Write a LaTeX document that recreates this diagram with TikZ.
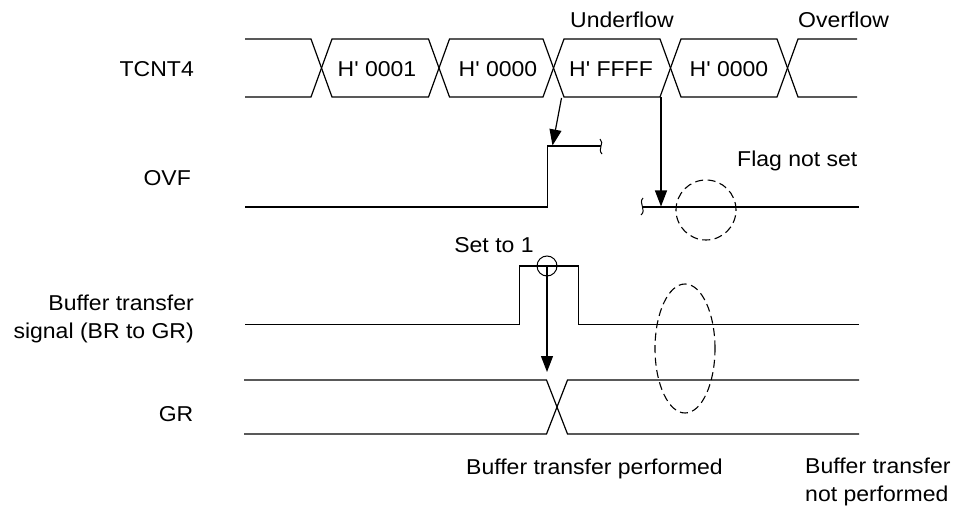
\documentclass[tikz,border=0pt]{standalone}
\usepackage{fontspec}
\newfontfamily\lsf{Liberation Sans}[FakeStretch=1.07]
\usetikzlibrary{arrows.meta,shapes.geometric}
\begin{document}
\begin{tikzpicture}[x=1pt,y=-1pt,
  sig/.style={line width=1.2pt, line join=miter},
  lbl/.style={inner sep=0pt, font=\lsf\fontsize{21.5}{28.5}\selectfont},
  arr/.style={line width=1.2pt, -{Triangle[length=16pt,width=12pt]}},
  dsh/.style={line width=1.1pt, dash pattern=on 8pt off 4.5pt},
]
\useasboundingbox (0,0) rectangle (968,510);

% ---- TCNT4 bus ----
\draw[sig] (245,39) -- (311,39) -- (332,97) -- (428.5,97) -- (449.5,39) -- (543,39) -- (564,97) -- (660,97) -- (681,39) -- (777,39) -- (798,97) -- (857,97);
\draw[sig] (245,97) -- (311,97) -- (332,39) -- (428.5,39) -- (449.5,97) -- (543,97) -- (564,39) -- (660,39) -- (681,97) -- (777,97) -- (798,39) -- (857,39);

\node[lbl, anchor=base east] (tcnt) at (194,76.7) {TCNT4};
\node[lbl, anchor=base] (v1) at (377,76.7) {H' 0001};
\node[lbl, anchor=base] (v2) at (498,76.7) {H' 0000};
\node[lbl, anchor=base] (v3) at (611,76.7) {H' FFFF};
\node[lbl, anchor=base] (v4) at (729,76.7) {H' 0000};
\node[lbl, anchor=base west] (uf) at (570,28) {Underflow};
\node[lbl, anchor=base west] (of) at (798,28) {Overflow};

% ---- OVF ----
\node[lbl, anchor=base east] (ovf) at (191,186) {OVF};
\draw[sig] (245,207) -- (547.5,207) -- (547.5,146) -- (600.5,146);
\draw[line width=1pt] (600,139) .. controls (605,143) and (597,149) .. (602,154);
\draw[line width=1pt] (643,198) .. controls (638,203) and (647,210) .. (641,215);
\draw[sig] (642.5,207) -- (859,207);
\coordinate (a1s) at (561.5,98);
\coordinate (a1e) at (552.5,145.5);
\draw[arr] (a1s) -- (a1e);
\coordinate (a2s) at (661,97);
\coordinate (a2e) at (661,206.5);
\draw[arr] (a2s) -- (a2e);
\node[dsh, draw, circle, minimum size=60pt, inner sep=0pt] (flagc) at (706,210) {};
\node[lbl, anchor=base west] (flag) at (737,167) {Flag not set};

% ---- Buffer transfer signal ----
\node[lbl, anchor=base east, align=right] (bts) at (194,338.5) {Buffer transfer\\signal (BR to GR)};
\draw[sig] (245,324.5) -- (519.5,324.5) -- (519.5,266) -- (578.5,266) -- (578.5,324.5) -- (859,324.5);
\node[draw, circle, line width=1pt, minimum size=20pt, inner sep=0pt] (setc) at (547,266) {};
\node[lbl, anchor=base] (set1) at (494,253) {Set to 1};
\coordinate (a3e) at (547,372);
\draw[arr] (setc.center) -- (a3e);

% ---- GR ----
\node[lbl, anchor=base east] (gr) at (193.5,421.5) {GR};
\draw[sig] (244,380) -- (546.5,380) -- (567.5,434) -- (859,434);
\draw[sig] (244,434) -- (546.5,434) -- (567.5,380) -- (859,380);
\node[dsh, draw, ellipse, minimum width=60pt, minimum height=129pt, inner sep=0pt] (ell) at (685,348.5) {};

\node[lbl, anchor=base west] (btp) at (466,474) {Buffer transfer performed};
\node[lbl, anchor=base west, align=left] (btn) at (805,501.5) {Buffer transfer\\not performed};
\end{tikzpicture}
\end{document}
